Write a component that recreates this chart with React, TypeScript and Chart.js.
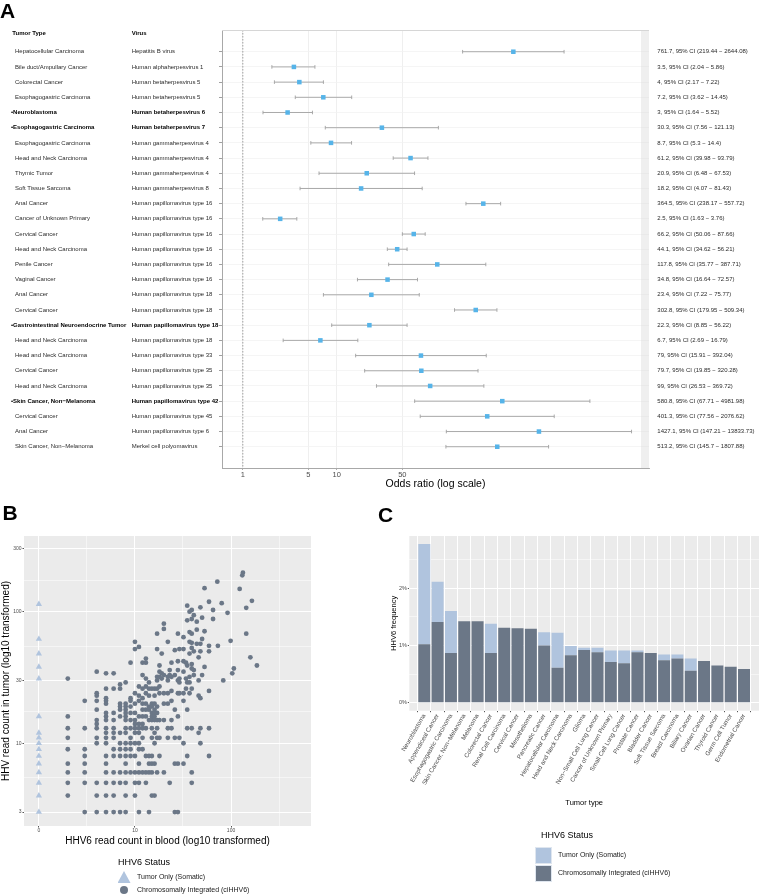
import React, { useEffect, useRef } from 'react';
import { Chart, registerables } from 'chart.js';

Chart.register(...registerables);

const FONT = '"Liberation Sans", Arial, Helvetica, sans-serif';

// ---------------- Panel A: forest plot ----------------
const tumorTypes = [
  'Hepatocellular Carcinoma', 'Bile duct/Ampullary Cancer', 'Colorectal Cancer', 'Esophagogastric Carcinoma',
  'Neuroblastoma', 'Esophagogastric Carcinoma', 'Esophagogastric Carcinoma', 'Head and Neck Carcinoma',
  'Thymic Tumor', 'Soft Tissue Sarcoma', 'Anal Cancer', 'Cancer of Unknown Primary', 'Cervical Cancer',
  'Head and Neck Carcinoma', 'Penile Cancer', 'Vaginal Cancer', 'Anal Cancer', 'Cervical Cancer',
  'Gastrointestinal Neuroendocrine Tumor', 'Head and Neck Carcinoma', 'Head and Neck Carcinoma',
  'Cervical Cancer', 'Head and Neck Carcinoma', 'Skin Cancer, Non\u2212Melanoma', 'Cervical Cancer',
  'Anal Cancer', 'Skin Cancer, Non\u2212Melanoma',
];
const viruses = [
  'Hepatitis B virus', 'Human alphaherpesvirus 1', 'Human betaherpesvirus 5', 'Human betaherpesvirus 5',
  'Human betaherpesvirus 6', 'Human betaherpesvirus 7', 'Human gammaherpesvirus 4', 'Human gammaherpesvirus 4',
  'Human gammaherpesvirus 4', 'Human gammaherpesvirus 8', 'Human papillomavirus type 16',
  'Human papillomavirus type 16', 'Human papillomavirus type 16', 'Human papillomavirus type 16',
  'Human papillomavirus type 16', 'Human papillomavirus type 16', 'Human papillomavirus type 18',
  'Human papillomavirus type 18', 'Human papillomavirus type 18', 'Human papillomavirus type 18',
  'Human papillomavirus type 33', 'Human papillomavirus type 35', 'Human papillomavirus type 35',
  'Human papillomavirus type 42', 'Human papillomavirus type 45', 'Human papillomavirus type 6',
  'Merkel cell polyomavirus',
];
const highlightedRows = [4, 5, 18, 23];
const oddsRatios = [761.7, 3.5, 4, 7.2, 3, 30.3, 8.7, 61.2, 20.9, 18.2, 364.5, 2.5, 66.2, 44.1, 117.8, 34.8, 23.4, 302.8, 22.3, 6.7, 79, 79.7, 99, 580.8, 401.3, 1427.1, 513.2];
const ciLow = [219.44, 2.04, 2.17, 3.62, 1.64, 7.56, 5.3, 39.98, 6.48, 4.07, 238.17, 1.63, 50.06, 34.62, 35.77, 16.64, 7.22, 179.95, 8.85, 2.69, 15.91, 19.85, 26.53, 67.71, 77.56, 147.21, 145.7];
const ciHigh = [2644.08, 5.86, 7.22, 14.45, 5.52, 121.13, 14.4, 93.79, 67.53, 81.43, 557.72, 3.76, 87.66, 56.21, 387.71, 72.57, 75.77, 509.34, 56.22, 16.79, 392.04, 320.28, 369.72, 4981.98, 2076.62, 13833.73, 1807.88];
const orTicks = [1, 5, 10, 50];

// ---------------- Panel B: scatter ----------------
// ciHHV6 cases: blood read count and the tumour read counts observed at that blood count
const ciBloodCounts = [2, 3, 4, 5, 6, 7, 8, 9, 10, 11, 12, 13, 14, 15, 16, 17, 18, 19, 20, 22, 23, 24, 26, 28, 29, 32, 34, 35, 37, 39, 41, 44, 46, 48, 50, 53, 59, 65, 72, 73, 80, 83, 92, 99, 103, 107, 123, 131, 133, 144, 159, 165, 186];
const ciTumorCounts = [
  [31, 16, 13, 11, 9, 7, 6, 5, 4],
  [21, 13, 9, 8, 7, 6, 5, 3],
  [35, 24, 23, 21, 18, 15, 14, 13, 11, 10, 5, 4, 3],
  [34, 26, 22, 21, 20, 17, 16, 15, 13, 12, 11, 10, 8, 7, 6, 5, 4, 3],
  [34, 26, 17, 15, 13, 12, 11, 9, 8, 6, 5, 4, 3],
  [28, 26, 20, 19, 18, 16, 12, 10, 9, 8, 6, 5, 3],
  [29, 20, 19, 18, 17, 16, 15, 13, 12, 10, 9, 8, 7, 6, 5, 4, 3],
  [41, 22, 21, 19, 17, 15, 13, 11, 10, 9, 8, 6],
  [59, 52, 24, 20, 17, 15, 14, 13, 12, 10, 8, 6, 5, 4],
  [54, 27, 23, 21, 16, 14, 13, 12, 10, 9, 7, 6, 5, 3],
  [41, 33, 26, 22, 20, 18, 16, 14, 13, 11, 9, 6],
  [44, 41, 31, 27, 24, 20, 18, 16, 13, 8, 6, 5],
  [29, 26, 23, 19, 18, 15, 8, 7, 6, 3],
  [26, 20, 19, 17, 16, 15, 13, 11, 8, 7, 6, 4],
  [26, 23, 20, 18, 17, 16, 15, 12, 10, 7, 4],
  [68, 52, 32, 30, 26, 19, 17, 15, 13, 11, 6],
  [39, 35, 32, 27, 24, 15, 11, 8],
  [48, 34, 31],
  [81, 74, 33, 24, 20, 15, 6],
  [59, 32, 30, 24, 20, 13, 11],
  [36, 33, 5],
  [41, 32, 25, 21, 15, 13],
  [51, 33, 18, 11, 7, 3],
  [68, 42, 36, 30, 24, 16, 7, 3],
  [52, 31, 29, 24, 11],
  [64, 52, 42, 35, 24, 21, 10, 7],
  [41, 31, 26],
  [111, 86, 39, 29, 18, 13, 8],
  [100, 70, 59, 48, 32, 29, 24],
  [103, 88, 68, 58, 53, 40, 37, 26, 13, 6, 5],
  [94, 50, 36, 33],
  [84, 73, 57],
  [45, 30, 23, 12],
  [108, 57, 50, 22, 13, 10],
  [90, 62, 33],
  [151, 71, 38],
  [119, 55, 50, 25, 13, 8],
  [103, 88],
  [169],
  [55],
  [116],
  [30],
  [98],
  [60],
  [34],
  [37],
  [149],
  [189],
  [198],
  [107, 68],
  [45],
  [121],
  [39],
];
// Somatic (tumour only) cases: no HHV6 reads in blood
const somaticBloodCount = 0;
const somaticTumorCounts = [114, 62, 48, 38, 31, 16, 12, 11, 10, 9, 8, 7, 6, 5, 4, 3];
const bloodTickValues = [1, 10, 100];
const bloodTickLabels = ['0', '10', '100'];
const bloodMinorGrid = [3.162, 31.62, 316.2];
const tumorTickValues = [3, 10, 30, 100, 300];
const tumorMinorGrid = [5.477, 17.32, 54.77, 173.2];

// ---------------- Panel C: stacked bars ----------------
const cancerTypes = [
  'Neuroblastoma', 'Appendiceal Cancer', 'Esophagogastric Carcinoma', 'Skin Cancer, Non\u2212Melanoma',
  'Melanoma', 'Colorectal Cancer', 'Renal Cell Carcinoma', 'Cervical Cancer', 'Mesothelioma',
  'Pancreatic Cancer', 'Hepatocellular Carcinoma', 'Head and Neck Carcinoma', 'Glioma',
  'Non\u2212Small Cell Lung Cancer', 'Cancer of Unknown Primary', 'Small Cell Lung Cancer', 'Prostate Cancer',
  'Bladder Cancer', 'Soft Tissue Sarcoma', 'Breast Carcinoma', 'Biliary Cancer', 'Ovarian Cancer',
  'Thyroid Cancer', 'Germ Cell Tumor', 'Endometrial Cancer',
];
const ciFrequency = [1.02, 1.41, 0.87, 1.42, 1.42, 0.87, 1.31, 1.30, 1.29, 1.00, 0.61, 0.83, 0.92, 0.88, 0.71, 0.69, 0.88, 0.87, 0.74, 0.77, 0.56, 0.73, 0.65, 0.63, 0.59];
const somaticFrequency = [1.75, 0.70, 0.73, 0, 0, 0.51, 0, 0, 0, 0.23, 0.61, 0.16, 0.04, 0.08, 0.20, 0.22, 0.03, 0, 0.10, 0.07, 0.21, 0, 0, 0, 0];
const freqTickValues = [0, 0.5, 1, 1.5, 2, 2.5];

const LIGHT = '#b0c4de';
const DARK = '#6b7787';
const SKY = '#56b4e9';
const TICK_GREY = '#4d4d4d';

function buildA(canvas: HTMLCanvasElement) {
  const rows = tumorTypes.map((_, i) => i);
  const forestPlugin = {
    id: 'forestExtras',
    beforeDatasetsDraw(chart: any) {
      const { ctx, chartArea: a, scales } = chart;
      const x = scales.x;
      const y = scales.y;
      ctx.save();
      const x1 = x.getPixelForValue(1);
      ctx.strokeStyle = '#8c8c8c';
      ctx.lineWidth = 0.8;
      ctx.setLineDash([1.5, 1.5]);
      ctx.beginPath();
      ctx.moveTo(x1, a.top);
      ctx.lineTo(x1, a.bottom);
      ctx.stroke();
      ctx.setLineDash([]);
      ctx.strokeStyle = '#a0a0a0';
      ctx.lineWidth = 0.9;
      rows.forEach((i) => {
        const yy = y.getPixelForValue(i);
        const xl = x.getPixelForValue(ciLow[i]);
        const xh = x.getPixelForValue(ciHigh[i]);
        ctx.beginPath();
        ctx.moveTo(xl, yy);
        ctx.lineTo(xh, yy);
        ctx.moveTo(xl, yy - 1.8);
        ctx.lineTo(xl, yy + 1.8);
        ctx.moveTo(xh, yy - 1.8);
        ctx.lineTo(xh, yy + 1.8);
        ctx.stroke();
      });
      ctx.restore();
    },
    afterDraw(chart: any) {
      const { ctx, chartArea: a, scales } = chart;
      const y = scales.y;
      ctx.save();
      // panel frame (top / right)
      ctx.fillStyle = 'rgba(215,215,215,0.4)';
      ctx.fillRect(a.right - 8, a.top, 8, a.bottom - a.top);
      ctx.strokeStyle = '#d6d6d6';
      ctx.lineWidth = 1;
      ctx.beginPath();
      ctx.moveTo(a.left, a.top + 0.5);
      ctx.lineTo(a.right, a.top + 0.5);
      ctx.stroke();
      // column headers
      ctx.textBaseline = 'middle';
      ctx.textAlign = 'left';
      ctx.fillStyle = '#000';
      ctx.font = `bold 6px ${FONT}`;
      ctx.fillText('Tumor Type', 12.3, 33);
      ctx.fillText('Virus', 131.7, 33);
      rows.forEach((i) => {
        const yy = y.getPixelForValue(i);
        const bold = highlightedRows.includes(i);
        ctx.font = `${bold ? 'bold ' : ''}6px ${FONT}`;
        ctx.fillStyle = bold ? '#000' : '#2b2b2b';
        ctx.fillText(bold ? '\u2022' + tumorTypes[i] : tumorTypes[i], bold ? 11 : 15, yy);
        ctx.fillText(viruses[i], 131.7, yy);
        ctx.font = `6px ${FONT}`;
        ctx.fillStyle = '#2b2b2b';
        ctx.fillText(`${oddsRatios[i]}, 95% CI (${ciLow[i]} \u2212 ${ciHigh[i]})`, 657.3, yy);
      });
      ctx.restore();
    },
  };

  return new Chart(canvas, {
    type: 'scatter',
    data: {
      datasets: [
        {
          data: oddsRatios.map((v, i) => ({ x: v, y: i })),
          pointStyle: 'rect',
          pointRadius: 3.2,
          pointHoverRadius: 3.2,
          backgroundColor: SKY,
          borderColor: SKY,
          borderWidth: 0,
        },
      ],
    },
    options: {
      animation: false,
      responsive: false,
      maintainAspectRatio: false,
      layout: { padding: { left: 219, top: 30, right: 110, bottom: 0 } },
      plugins: { legend: { display: false }, tooltip: { enabled: false } },
      scales: {
        x: {
          type: 'logarithmic',
          min: 0.624,
          max: 21230,
          afterBuildTicks: (s: any) => {
            s.ticks = orTicks.map((v) => ({ value: v }));
          },
          afterFit: (s: any) => {
            s.height = 32;
          },
          ticks: {
            callback: (v: any) => String(v),
            font: { family: FONT, size: 7.5 },
            color: TICK_GREY,
            padding: 0,
            maxRotation: 0,
            minRotation: 0,
            autoSkip: false,
          },
          grid: { color: '#ebebeb', lineWidth: 0.8, tickColor: '#999', tickLength: 2 },
          border: { color: '#a8a8a8', width: 1 },
          title: {
            display: true,
            text: 'Odds ratio (log scale)',
            font: { family: FONT, size: 10.5 },
            color: '#000',
            padding: { top: 0, bottom: 9.5 },
          },
        },
        y: {
          type: 'linear',
          reverse: true,
          min: -1.43,
          max: 27.4,
          afterBuildTicks: (s: any) => {
            s.ticks = rows.map((v) => ({ value: v }));
          },
          afterFit: (s: any) => {
            s.width = 3;
          },
          ticks: { display: false },
          grid: { color: '#f3f3f3', lineWidth: 0.8, tickColor: '#888', tickLength: 3 },
          border: { color: '#a8a8a8', width: 1 },
        },
      },
    } as any,
    plugins: [forestPlugin],
  });
}

function panelBackground(color: string) {
  return {
    id: 'panelBg',
    beforeDraw(chart: any) {
      const { ctx, chartArea: a } = chart;
      ctx.save();
      ctx.fillStyle = color;
      ctx.fillRect(a.left, a.top, a.right - a.left, a.bottom - a.top);
      ctx.restore();
    },
  };
}

function buildB(canvas: HTMLCanvasElement) {
  const ciPoints = ciBloodCounts.flatMap((b, k) => ciTumorCounts[k].map((t) => ({ x: b, y: t })));
  // zero blood reads sit at the axis position labelled "0" (value 1 on the log axis)
  const somaticPoints = somaticTumorCounts.map((t) => ({ x: Math.max(somaticBloodCount, 1), y: t }));
  const xMajor = new Set(bloodTickValues);
  const yMajor = new Set(tumorTickValues);
  const xTicks = [...bloodTickValues, ...bloodMinorGrid].sort((a, b) => a - b);
  const yTicks = [...tumorTickValues, ...tumorMinorGrid].sort((a, b) => a - b);

  return new Chart(canvas, {
    type: 'scatter',
    data: {
      datasets: [
        {
          label: 'Chromosomally Integrated (ciHHV6)',
          data: ciPoints,
          pointStyle: 'circle',
          pointRadius: 2.4,
          pointHoverRadius: 2.4,
          backgroundColor: DARK,
          borderWidth: 0,
        },
        {
          label: 'Tumor Only (Somatic)',
          data: somaticPoints,
          pointStyle: 'triangle',
          pointRadius: 3.6,
          pointHoverRadius: 3.6,
          backgroundColor: LIGHT,
          borderWidth: 0,
        },
      ],
    },
    options: {
      animation: false,
      responsive: false,
      maintainAspectRatio: false,
      layout: { padding: { left: 0, top: 16, right: 59, bottom: 0 } },
      plugins: { legend: { display: false }, tooltip: { enabled: false } },
      scales: {
        x: {
          type: 'logarithmic',
          min: 0.73,
          max: 680,
          afterBuildTicks: (s: any) => {
            s.ticks = xTicks.map((v) => ({ value: v }));
          },
          afterFit: (s: any) => {
            s.height = 24;
          },
          ticks: {
            callback: (v: any) => {
              const k = bloodTickValues.indexOf(v);
              return k >= 0 ? bloodTickLabels[k] : '';
            },
            font: { family: FONT, size: 5 },
            color: TICK_GREY,
            padding: 0.5,
            maxRotation: 0,
            minRotation: 0,
            autoSkip: false,
          },
          grid: {
            color: '#ffffff',
            lineWidth: (c: any) => (c.tick && xMajor.has(c.tick.value) ? 1 : 0.5),
            tickColor: (c: any) => (c.tick && xMajor.has(c.tick.value) ? '#555' : 'rgba(0,0,0,0)'),
            tickLength: 1.5,
          },
          border: { display: false },
          title: {
            display: true,
            text: 'HHV6 read count in blood (log10 transformed)',
            font: { family: FONT, size: 10 },
            color: '#000',
            padding: { top: 0, bottom: 3 },
          },
        },
        y: {
          type: 'logarithmic',
          min: 2.35,
          max: 376,
          afterBuildTicks: (s: any) => {
            s.ticks = yTicks.map((v) => ({ value: v }));
          },
          afterFit: (s: any) => {
            s.width = 24;
          },
          ticks: {
            callback: (v: any) => (yMajor.has(v) ? String(v) : ''),
            font: { family: FONT, size: 5 },
            color: TICK_GREY,
            padding: 1,
            autoSkip: false,
          },
          grid: {
            color: '#ffffff',
            lineWidth: (c: any) => (c.tick && yMajor.has(c.tick.value) ? 1 : 0.5),
            tickColor: (c: any) => (c.tick && yMajor.has(c.tick.value) ? '#555' : 'rgba(0,0,0,0)'),
            tickLength: 1.5,
          },
          border: { display: false },
          title: {
            display: true,
            text: 'HHV read count in tumor (log10 transformed)',
            font: { family: FONT, size: 10 },
            color: '#000',
            padding: { top: 0.5, bottom: 0 },
          },
        },
      },
    } as any,
    plugins: [panelBackground('#ebebeb')],
  });
}

function buildC(canvas: HTMLCanvasElement) {
  return new Chart(canvas, {
    type: 'bar',
    data: {
      datasets: [
        {
          label: 'Chromosomally Integrated (ciHHV6)',
          data: ciFrequency.map((v, i) => ({ x: i, y: v })),
          backgroundColor: DARK,
          borderWidth: 0,
          barPercentage: 0.9,
          categoryPercentage: 1,
        },
        {
          label: 'Tumor Only (Somatic)',
          data: somaticFrequency.map((v, i) => ({ x: i, y: v })),
          backgroundColor: LIGHT,
          borderWidth: 0,
          barPercentage: 0.9,
          categoryPercentage: 1,
        },
      ],
    },
    options: {
      animation: false,
      responsive: false,
      maintainAspectRatio: false,
      layout: { padding: { left: 18, top: 11, right: 0, bottom: 0 } },
      plugins: { legend: { display: false }, tooltip: { enabled: false } },
      scales: {
        x: {
          type: 'linear',
          min: -0.6,
          max: 24.6,
          stacked: true,
          afterBuildTicks: (s: any) => {
            s.ticks = cancerTypes.map((_, i) => ({ value: i }));
          },
          afterFit: (s: any) => {
            s.height = 104.3;
          },
          ticks: {
            callback: (v: any) => cancerTypes[v] ?? '',
            font: { family: FONT, size: 6.2 },
            color: TICK_GREY,
            padding: 0.5,
            minRotation: 60,
            maxRotation: 60,
            autoSkip: false,
          },
          grid: { color: '#ffffff', lineWidth: 1, tickColor: '#555', tickLength: 1.5 },
          border: { display: false },
          title: {
            display: true,
            text: 'Tumor type',
            font: { family: FONT, size: 7.5 },
            color: '#000',
            padding: { top: 0, bottom: 7.8 },
          },
        },
        y: {
          type: 'linear',
          min: -0.1385,
          max: 2.9085,
          stacked: true,
          afterBuildTicks: (s: any) => {
            s.ticks = freqTickValues.map((v) => ({ value: v }));
          },
          afterFit: (s: any) => {
            s.width = 21.3;
          },
          ticks: {
            callback: (v: any) => (Number.isInteger(v) ? `${v}%` : ''),
            font: { family: FONT, size: 5.5 },
            color: TICK_GREY,
            padding: 0.8,
            autoSkip: false,
          },
          grid: {
            color: '#ffffff',
            lineWidth: (c: any) => (c.tick && Number.isInteger(c.tick.value) ? 1 : 0.5),
            tickColor: (c: any) => (c.tick && Number.isInteger(c.tick.value) ? '#555' : 'rgba(0,0,0,0)'),
            tickLength: 1.5,
          },
          border: { display: false },
          title: {
            display: true,
            text: 'HHV6 frequency',
            font: { family: FONT, size: 7.5 },
            color: '#000',
            padding: { top: 1, bottom: 0 },
          },
        },
      },
    } as any,
    plugins: [panelBackground('#ebebeb')],
  });
}

function Txt(props: { x: number; cy: number; size: number; bold?: boolean; color?: string; children: any }) {
  const { x, cy, size, bold, color, children } = props;
  return (
    <div
      style={{
        position: 'absolute',
        left: x,
        top: cy - size * 0.6,
        height: size * 1.2,
        lineHeight: `${size * 1.2}px`,
        fontSize: size,
        fontWeight: bold ? 700 : 400,
        color: color || '#000',
        whiteSpace: 'nowrap',
        willChange: 'transform',
        WebkitFontSmoothing: 'antialiased',
      }}
    >
      {children}
    </div>
  );
}

export default function App() {
  const refA = useRef<HTMLCanvasElement>(null);
  const refB = useRef<HTMLCanvasElement>(null);
  const refC = useRef<HTMLCanvasElement>(null);

  useEffect(() => {
    const charts = [buildA(refA.current!), buildB(refB.current!), buildC(refC.current!)];
    return () => charts.forEach((c) => c.destroy());
  }, []);

  const letter = (t: string, left: number, top: number) => (
    <div style={{ position: 'absolute', left, top, fontSize: 21, lineHeight: '21px', fontWeight: 700, color: '#000' }}>{t}</div>
  );

  return (
    <div
      style={{
        position: 'fixed',
        left: 0,
        top: 0,
        width: 759,
        height: 895,
        background: '#fff',
        overflow: 'hidden',
        fontFamily: FONT,
      }}
    >
      <canvas ref={refA} width={759} height={500} style={{ position: 'absolute', left: 0, top: 0 }} />
      <canvas ref={refB} width={370} height={330} style={{ position: 'absolute', left: 0, top: 520 }} />
      <canvas ref={refC} width={389} height={290} style={{ position: 'absolute', left: 370, top: 525 }} />

      {letter('A', 0, 0)}
      {letter('B', 2.5, 502)}
      {letter('C', 378, 504)}

      {/* Panel B legend */}
      <Txt x={118} cy={862} size={9}>HHV6 Status</Txt>
      <div
        style={{
          position: 'absolute',
          left: 117.5,
          top: 871,
          width: 13,
          height: 12,
          background: LIGHT,
          clipPath: 'polygon(50% 0, 100% 100%, 0 100%)',
        }}
      />
      <Txt x={136.7} cy={877} size={7} color="#1a1a1a">Tumor Only (Somatic)</Txt>
      <div
        style={{
          position: 'absolute',
          left: 119.6,
          top: 885.6,
          width: 8.7,
          height: 8.7,
          borderRadius: '50%',
          background: DARK,
        }}
      />
      <Txt x={136.7} cy={890} size={7} color="#1a1a1a">Chromosomally Integrated (ciHHV6)</Txt>

      {/* Panel C legend */}
      <Txt x={540.7} cy={835} size={9}>HHV6 Status</Txt>
      <div
        style={{
          position: 'absolute',
          left: 534.7,
          top: 846.7,
          width: 15.6,
          height: 15.3,
          background: LIGHT,
          border: '0.6px solid #dfe6ef',
        }}
      />
      <Txt x={558.3} cy={855.3} size={7} color="#1a1a1a">Tumor Only (Somatic)</Txt>
      <div
        style={{
          position: 'absolute',
          left: 534.7,
          top: 864.7,
          width: 15.6,
          height: 15.3,
          background: DARK,
          border: '0.6px solid #dfe6ef',
        }}
      />
      <Txt x={558.3} cy={873.3} size={7} color="#1a1a1a">Chromosomally Integrated (ciHHV6)</Txt>
    </div>
  );
}
